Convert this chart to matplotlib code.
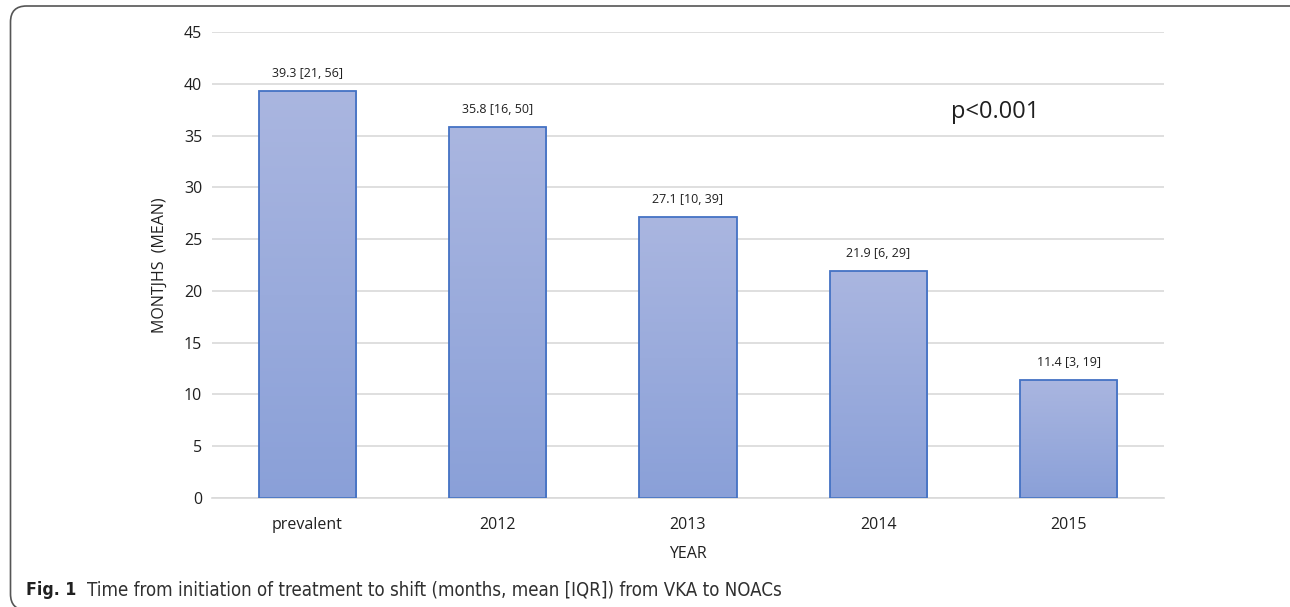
import matplotlib
matplotlib.use("Agg")
import matplotlib.pyplot as plt
import numpy as np
from matplotlib.patches import FancyBboxPatch
from matplotlib.colors import LinearSegmentedColormap

categories = ["prevalent", "2012", "2013", "2014", "2015"]
means = [39.3, 35.8, 27.1, 21.9, 11.4]
iqr_low = [21, 16, 10, 6, 3]
iqr_high = [56, 50, 39, 29, 19]
yticks = [0, 5, 10, 15, 20, 25, 30, 35, 40, 45]

plt.rcParams['font.family'] = ['Open Sans', 'DejaVu Sans']

W, H = 1290, 607
fig = plt.figure(figsize=(W / 100, H / 100), dpi=100)
ax = fig.add_axes([212 / W, 1 - 498 / H, 952 / W, 466 / H])

x = np.arange(len(categories))
bars = ax.bar(x, means, width=0.51, color='none', edgecolor='#4472c4', linewidth=1.3, zorder=3)

grad = np.linspace(0, 1, 256).reshape(-1, 1)
cmap = LinearSegmentedColormap.from_list('g', ['#8aa0d8', '#aab6e0'])
for b in bars:
    x0, y0 = b.get_x(), b.get_y()
    w, h = b.get_width(), b.get_height()
    im = ax.imshow(grad, extent=[x0, x0 + w, y0, y0 + h], origin='lower', aspect='auto', cmap=cmap, zorder=2)
    im.set_clip_path(b)

for xi, m, lo, hi in zip(x, means, iqr_low, iqr_high):
    ax.annotate(f"{m} [{lo}, {hi}]", (xi, m), xytext=(0, 8), textcoords='offset points',
                ha='center', va='bottom', fontsize=9, color='#202020')

ax.set_xlim(-0.5, 4.5)
ax.set_ylim(0, 45)
ax.set_yticks(yticks)
ax.set_xticks(x)
ax.set_xticklabels(categories)
ax.tick_params(axis='both', length=0, labelsize=11.5, colors='#202020')
ax.tick_params(axis='y', pad=7)
ax.tick_params(axis='x', pad=14)
ax.grid(axis='y', color='#d9d9d9', linewidth=1.2, zorder=0)
ax.set_axisbelow(True)
for s in ['top', 'right', 'left']:
    ax.spines[s].set_visible(False)
ax.spines['bottom'].set_color('#d9d9d9')
ax.spines['bottom'].set_linewidth(1.2)

ax.set_ylabel("MONTJHS  (MEAN)", fontsize=11.5, color='#202020', labelpad=12)
ax.set_xlabel("YEAR", fontsize=11.5, color='#202020', labelpad=9)

ax.text(3.38, 37.3, "p<0.001", fontsize=17, color='#202020', ha='left', va='center')

# frame (inches)
frame = FancyBboxPatch((0.105, -0.03), 13.07 - 0.105, 6.01 + 0.03,
                       boxstyle="round,pad=0,rounding_size=0.16", transform=fig.dpi_scale_trans,
                       fill=False, edgecolor='#555555', linewidth=1.2)
fig.patches.append(frame)

cap_y = 1 - 590 / H
t1 = fig.text(26 / W, cap_y, "Fig. 1", fontsize=12, fontweight='bold', fontstretch='condensed',
              va='center', ha='left', color='#202020', family=['DejaVu Sans'])
cap = "Time from initiation of treatment to shift (months, mean [IQR]) from VKA to NOACs"
t2 = fig.text(87 / W, cap_y, cap, fontsize=12, fontstretch='condensed', va='center', ha='left',
              color='#303030', family=['DejaVu Sans'])
fig.canvas.draw()
r = fig.canvas.get_renderer()
w2 = t2.get_window_extent(r).width
t2.set_fontsize(12 * 696 / w2)
w1 = t1.get_window_extent(r).width
t1.set_fontsize(12 * 50 / w1)

fig.savefig("out.png", dpi=100)
